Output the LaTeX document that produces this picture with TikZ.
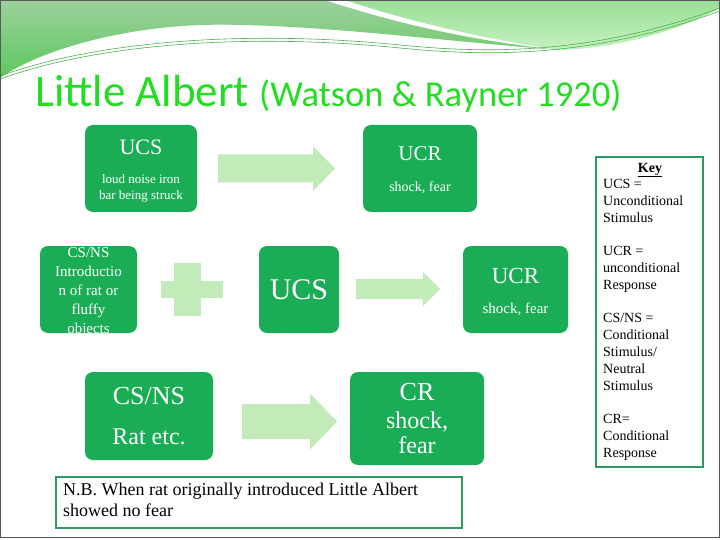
\documentclass[tikz,border=0pt]{standalone}
\usepackage{fontspec}
\setmainfont{Liberation Serif}
\newfontfamily\titlefont{Carlito}
\usepackage{xcolor}
\definecolor{boxgreen}{HTML}{1BAD55}
\definecolor{pale}{HTML}{C3EBB9}
\definecolor{titlegreen}{HTML}{22DD22}
\definecolor{keygreen}{HTML}{2E9A62}
\definecolor{wavetop}{HTML}{9DD09D}
\definecolor{wavelow}{HTML}{5DC85D}
\definecolor{lighttop}{HTML}{98DF96}
\definecolor{lightlow}{HTML}{C6F1C0}
\usetikzlibrary{positioning,calc}
\tikzset{
  gbox/.style={fill=boxgreen, rounded corners=8pt, text=white, align=center,
               inner sep=0pt},
  keybox/.style={draw=keygreen, line width=2pt, fill=white},
  blockar/.style={fill=pale},
  waveline/.style={draw=gray!60!green, line width=0.6pt},
}
\newcommand\fsz[2]{\fontsize{#1}{#2}\selectfont}
% block arrow: tail x, tip x, centre y, shaft half, head half, head length
\newcommand\blockarrow[6]{%
  \fill[blockar] (#1,#3-#4) -- (#2-#6,#3-#4) -- (#2-#6,#3-#5) -- (#2,#3)
    -- (#2-#6,#3+#5) -- (#2-#6,#3+#4) -- (#1,#3+#4) -- cycle;}

\begin{document}
\begin{tikzpicture}[x=1pt, y=-1pt]
  \useasboundingbox (0,0) rectangle (720,540);
  \fill[white] (0,0) rectangle (720,540);

  % header wave
  \shade[top color=wavetop, bottom color=wavelow]
    (0,0) -- (325,0) .. controls (400,25) and (480,42) .. (560,50)
    .. controls (450,42) and (300,22) .. (200,25)
    .. controls (120,28) and (40,50) .. (0,78) -- cycle;
  \shade[top color=lighttop, bottom color=lightlow]
    (345,0) -- (720,0) -- (720,8) .. controls (680,30) and (620,48) .. (560,50)
    .. controls (490,40) and (410,22) .. (345,0) -- cycle;
  \draw[waveline] (0,76) .. controls (100,40) and (250,30) .. (400,45)
    .. controls (500,55) and (600,52) .. (720,8);
  \draw[waveline] (0,79) .. controls (100,43) and (250,33) .. (400,48)
    .. controls (500,58) and (600,55) .. (720,11);
  \draw[gray!70!black, line width=1pt] (0.5,0.5) rectangle (719.5,537);

  \node[anchor=base west, text=titlegreen, inner sep=0pt] (title) at (35,107)
    {\titlefont\fsz{45}{50}Little Albert \fsz{36.5}{40}(Watson \& Rayner 1920)};

  % row 1
  \node[gbox, minimum width=112pt, minimum height=87pt, font=\fsz{13}{16}]
    (ucsA) at (141,168.5) {};
  \node[text=white, align=center, inner sep=0pt, font=\fsz{13}{16}]
    (ucsAtxt) at (141,171)
    {{\fsz{22}{26}UCS}\\[13pt]loud noise iron\\bar being struck};
  \node[gbox, minimum width=114pt, minimum height=87pt] (ucrA) at (420,168.5) {};
  \node[text=white, align=center, inner sep=0pt, font=\fsz{14}{17}]
    (ucrAtxt) at (420,170.5)
    {{\fsz{21}{25}UCR}\\[14pt]shock, fear};
  \blockarrow{218}{335}{168.5}{14}{22.5}{22}

  % row 2
  \node[gbox, minimum width=97pt, minimum height=87pt] (csnsA) at (88.5,289.5) {};
  \begin{scope}
    \clip[rounded corners=8pt] (csnsA.south west) rectangle (csnsA.north east);
    \node[text=white, align=center, inner sep=0pt, font=\fsz{15}{19}]
      (csnsAtxt) at (88.5,292)
      {CS/NS\\Introductio\\n of rat or\\fluffy\\objects};
  \end{scope}
  \fill[blockar] (161,281) rectangle (223,298);
  \fill[blockar] (174,263) rectangle (201,316);
  \node[gbox, minimum width=80pt, minimum height=87pt, font=\fsz{30}{34}]
    (ucsB) at (299,289.5) {UCS};
  \node[gbox, minimum width=105pt, minimum height=87pt] (ucrB) at (515.5,289.5) {};
  \node[text=white, align=center, inner sep=0pt, font=\fsz{15}{18}]
    (ucrBtxt) at (515.5,292)
    {{\fsz{23}{27}UCR}\\[12pt]shock, fear};
  \blockarrow{356}{440}{289}{10}{17}{17}

  % row 3
  \node[gbox, minimum width=128pt, minimum height=88pt, font=\fsz{24}{28}]
    (csnsB) at (149,416)
    {{\fsz{26}{30}CS/NS}\\[12pt]Rat etc.};
  \node[gbox, minimum width=134pt, minimum height=93pt, font=\fsz{24}{25}]
    (cr) at (417,418.5)
    {{\fsz{26}{29}CR}\\[3pt]shock,\\fear};
  \blockarrow{242}{337}{421.5}{17.5}{28}{27}

  % note and key
  \node[keybox, minimum width=406pt, minimum height=51pt] (nb) at (259,502.5) {};
  \node[anchor=north west, align=left, inner sep=0pt, font=\fsz{18}{21}]
    (nbtxt) at (63,483)
    {N.B. When rat originally introduced Little Albert\\showed no fear};
  \node[keybox, minimum width=107pt, minimum height=310pt] (key) at (649.5,312) {};
  \node[font=\fsz{14}{16.8}\bfseries, inner sep=0pt] (keyhd) at (650,170)
    {\underline{Key}};
  \node[anchor=north west, align=left, inner sep=0pt, font=\fsz{14}{16.8}]
    (keytxt) at (603,179)
    {UCS =\\Unconditional\\Stimulus\\[16.8pt]
     UCR =\\unconditional\\Response\\[16.8pt]
     CS/NS =\\Conditional\\Stimulus/\\Neutral\\Stimulus\\[16.8pt]
     CR=\\Conditional\\Response};
\end{tikzpicture}
\end{document}
